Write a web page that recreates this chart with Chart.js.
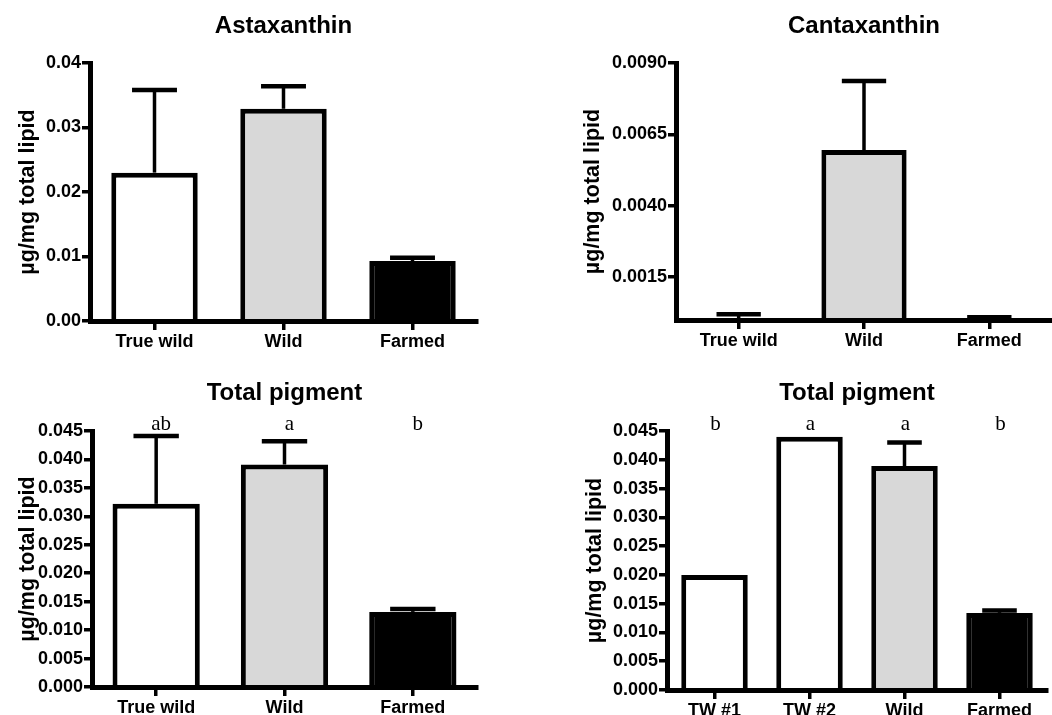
<!DOCTYPE html>
<html lang="en">
<head>
<meta charset="UTF-8">
<title>Carotenoid pigments</title>
<script src="https://cdn.jsdelivr.net/npm/chart.js"></script>
<style>
  body { margin: 0; background: #fff; }
  #wrap { position: relative; width: 1052px; height: 715px; overflow: hidden; }
  #wrap canvas { position: absolute; }
</style>
</head>
<body>
<div id="wrap">
  <canvas id="asta" width="520" height="360" style="left:0;top:0"></canvas>
  <canvas id="canta" width="532" height="360" style="left:520px;top:0"></canvas>
  <canvas id="total" width="520" height="355" style="left:0;top:360px"></canvas>
  <canvas id="totalTw" width="532" height="355" style="left:520px;top:360px"></canvas>
</div>
<script>
// groups
var groups = ["True wild", "Wild", "Farmed"];
var twGroups = ["TW #1", "TW #2", "Wild", "Farmed"];

// means and SEM, ug/mg total lipid
var astaxanthin = [0.0230, 0.0329, 0.0093];
var astaxanthinSem = [0.0128, 0.0035, 0.0005];
var cantaxanthin = [0.00005, 0.00595, 0.00003];
var cantaxanthinSem = [0.00015, 0.00242, 0.00007];
var totalPigment = [0.0322, 0.0391, 0.0132];
var totalPigmentSem = [0.0119, 0.0041, 0.0005];
var totalLetters = ["ab", "a", "b"];
var twPigment = [0.0200, 0.0440, 0.0389, 0.0134];
var twPigmentSem = [null, null, 0.0041, 0.0004];
var twLetters = ["b", "a", "a", "b"];

// y tick values
var astaTicks = [0, 0.01, 0.02, 0.03, 0.04];
var cantaTicks = [0.0015, 0.0040, 0.0065, 0.0090];
var pigmentTicks = [0, 0.005, 0.010, 0.015, 0.020, 0.025, 0.030, 0.035, 0.040, 0.045];

var SANS = '"Liberation Sans", Arial, Helvetica, sans-serif';
var SERIF = '"Liberation Serif", "Times New Roman", serif';
var WHITE = "#ffffff", GREY = "#d8d8d8", BLACK = "#000000";
Chart.defaults.font.family = SANS;
Chart.defaults.color = "#000";

function makePanel(id, cfg) {
  // error bars, panel title and significance letters
  var decor = {
    id: "decor",
    afterDatasetsDraw: function(chart) {
      var meta = chart.getDatasetMeta(0);
      var y = chart.scales.y;
      var ctx = chart.ctx;
      ctx.save();
      ctx.strokeStyle = "#000";
      cfg.sem.forEach(function(s, i) {
        if (s == null) return;
        var bar = meta.data[i];
        var top = y.getPixelForValue(cfg.values[i] + s);
        var base = y.getPixelForValue(cfg.values[i]);
        var half = bar.width * 0.26;
        ctx.lineWidth = 3.5;
        ctx.beginPath();
        ctx.moveTo(bar.x, base);
        ctx.lineTo(bar.x, top);
        ctx.stroke();
        ctx.lineWidth = 4.5;
        ctx.beginPath();
        ctx.moveTo(bar.x - half, top);
        ctx.lineTo(bar.x + half, top);
        ctx.stroke();
      });
      ctx.restore();
    },
    afterDraw: function(chart) {
      var ctx = chart.ctx;
      var area = chart.chartArea;
      var x = chart.scales.x;
      ctx.save();
      ctx.fillStyle = "#000";
      ctx.textAlign = "center";
      ctx.textBaseline = "alphabetic";
      ctx.font = "bold 24px " + SANS;
      ctx.fillText(cfg.title, (area.left + area.right) / 2, cfg.titleY);
      if (cfg.letters) {
        ctx.font = "21px " + SERIF;
        cfg.letters.forEach(function(l, i) {
          ctx.fillText(l, x.getPixelForValue(i) + cfg.letterShift, cfg.lettersY);
        });
      }
      ctx.restore();
    }
  };

  return new Chart(document.getElementById(id), {
    type: "bar",
    data: {
      labels: cfg.labels,
      datasets: [{
        data: cfg.values,
        backgroundColor: cfg.fills,
        borderColor: "#000",
        borderWidth: 5,
        borderSkipped: "start",
        barPercentage: cfg.barPct,
        categoryPercentage: 1
      }]
    },
    options: {
      responsive: false,
      animation: false,
      events: [],
      layout: { padding: { left: 0, top: cfg.area.t, right: cfg.w - cfg.area.r, bottom: 0 } },
      plugins: { legend: { display: false }, tooltip: { enabled: false } },
      scales: {
        x: {
          grid: { display: true, offset: false, drawOnChartArea: false, drawTicks: true,
                  tickLength: 9, lineWidth: 3.5, color: "#000" },
          border: { display: true, width: 5, color: "#000", z: 1 },
          ticks: { font: { size: 18, weight: "bold" }, padding: 1, maxRotation: 0, autoSkip: false },
          afterFit: function(s) { s.height = cfg.h - cfg.area.b; }
        },
        y: {
          min: 0,
          max: cfg.max,
          grid: { display: true, drawOnChartArea: false, drawTicks: true,
                  tickLength: 8, lineWidth: 3.5, color: "#000" },
          border: { display: true, width: 5, color: "#000", z: 1 },
          ticks: {
            font: { size: 18, weight: "bold" },
            padding: 1,
            autoSkip: false,
            callback: function(v) { return Number(v).toFixed(cfg.decimals); }
          },
          afterBuildTicks: function(s) {
            s.ticks = cfg.ticks.map(function(v) { return { value: v }; });
          },
          afterFit: function(s) { s.width = cfg.area.l; },
          title: {
            display: true,
            text: "\u00b5g/mg total lipid",
            font: { size: 21.5, weight: "bold" },
            padding: { top: cfg.yTitleX - 12.9, bottom: 0 }
          }
        }
      }
    },
    plugins: [decor]
  });
}

makePanel("asta", {
  w: 520, h: 360, area: { l: 90, t: 63, r: 477, b: 321 },
  labels: groups, values: astaxanthin, sem: astaxanthinSem,
  fills: [WHITE, GREY, BLACK], barPct: 0.67,
  max: 0.04, ticks: astaTicks, decimals: 2,
  title: "Astaxanthin", titleY: 33, yTitleX: 28
});

makePanel("canta", {
  w: 532, h: 360, area: { l: 156, t: 63, r: 532, b: 320 },
  labels: groups, values: cantaxanthin, sem: cantaxanthinSem,
  fills: [WHITE, GREY, BLACK], barPct: 0.68,
  max: 0.009, ticks: cantaTicks, decimals: 4,
  title: "Cantaxanthin", titleY: 33, yTitleX: 73
});

makePanel("total", {
  w: 520, h: 355, area: { l: 92, t: 71, r: 477, b: 327 },
  labels: groups, values: totalPigment, sem: totalPigmentSem,
  fills: [WHITE, GREY, BLACK], barPct: 0.68,
  max: 0.045, ticks: pigmentTicks, decimals: 3,
  title: "Total pigment", titleY: 40, yTitleX: 28,
  letters: totalLetters, lettersY: 70, letterShift: 5
});

makePanel("totalTw", {
  w: 532, h: 355, area: { l: 147, t: 71, r: 527, b: 330 },
  labels: twGroups, values: twPigment, sem: twPigmentSem,
  fills: [WHITE, WHITE, GREY, BLACK], barPct: 0.7,
  max: 0.045, ticks: pigmentTicks, decimals: 3,
  title: "Total pigment", titleY: 40, yTitleX: 75,
  letters: twLetters, lettersY: 70, letterShift: 1
});
</script>
</body>
</html>
